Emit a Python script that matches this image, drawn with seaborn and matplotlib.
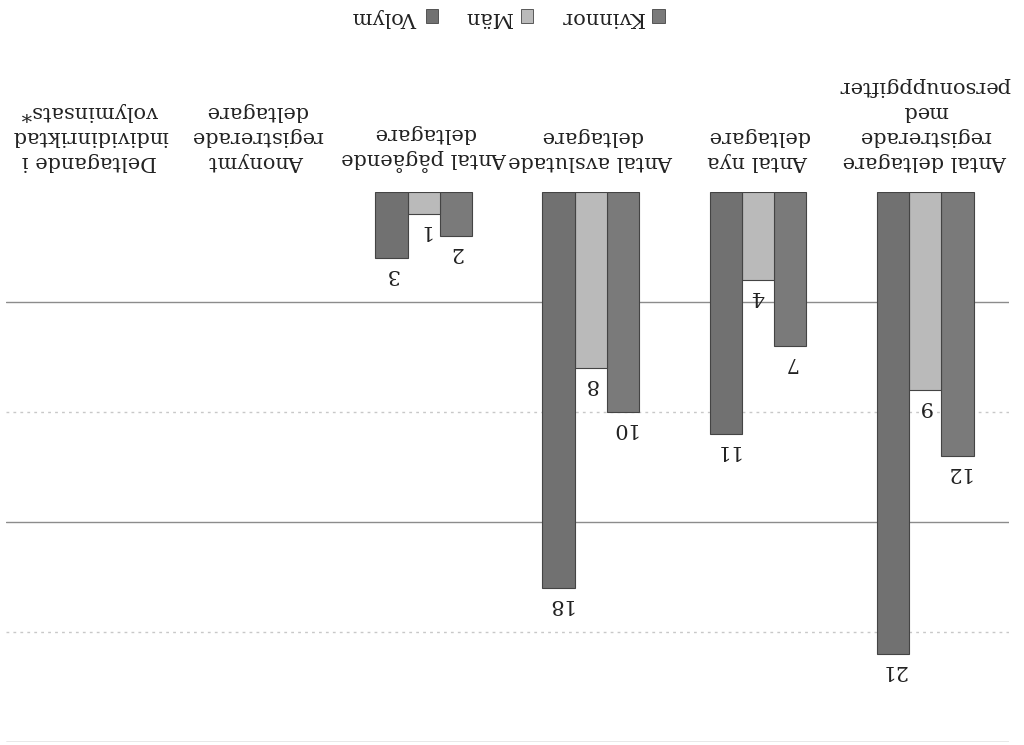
import matplotlib
matplotlib.use("Agg")
import matplotlib.pyplot as plt
import seaborn as sns
import pandas as pd
from matplotlib.patches import Patch

# Data (chart is a scan printed upside down, so everything is drawn rotated 180°)
categories = [
    "Antal deltagare\nregistrerade\nmed\npersonuppgifter",
    "Antal nya\ndeltagare",
    "Antal avslutade\ndeltagare",
    "Antal pågående\ndeltagare",
    "Anonymt\nregistrerade\ndeltagare",
    "Deltagande i\nindividinriktad\nvolyminsats*",
]
series = ["Kvinnor", "Män", "Volym"]
kvinnor = [12, 7, 10, 2, None, None]
man = [9, 4, 8, 1, None, None]
volym = [21, 11, 18, 3, None, None]
grid_values = [5, 10, 15, 20, 25]

colors = {"Kvinnor": "#7a7a7a", "Män": "#bababa", "Volym": "#717171"}

rows = []
for s, vals in zip(series, [kvinnor, man, volym]):
    for c, v in zip(categories, vals):
        rows.append({"kategori": c, "serie": s, "antal": v})
df = pd.DataFrame(rows)

sns.set_theme(style="white")
plt.rcParams["font.family"] = ["DejaVu Serif"]

fig = plt.figure(figsize=(10.24, 7.45), dpi=100)
ax = fig.add_axes([0.006, 0.004, 0.979, 0.738])

sns.barplot(
    data=df, x="kategori", y="antal", hue="serie",
    order=categories, hue_order=series, palette=colors,
    width=0.58, edgecolor="#444444", linewidth=0.8,
    ax=ax, legend=False,
)

ax.set_ylim(25, 0)       # upside down
ax.set_xlim(5.5, -0.5)   # mirrored
ax.set_yticks(grid_values)
ax.yaxis.grid(True, color="#8c8c8c", linewidth=1)
# the scan shows the 10 and 20 lines much fainter
for v, gl in zip(grid_values, ax.yaxis.get_gridlines()):
    if v in (10, 20):
        gl.set_color("#c8c8c8")
        gl.set_linestyle((0, (2, 3)))
ax.set_axisbelow(True)
ax.tick_params(axis="y", left=False, labelleft=False)
ax.xaxis.tick_top()
ax.tick_params(axis="x", top=False, bottom=False, pad=9)
ax.set_xticks(range(len(categories)))
ax.set_xticklabels(categories, rotation=180, fontsize=15, color="#222222",
                   va="bottom", ha="center", multialignment="center",
                   linespacing=1.4)
ax.set_xlabel("")
ax.set_ylabel("")
sns.despine(ax=ax, left=True, bottom=True, top=True, right=True)

for cont in ax.containers:
    labels = ["" if pd.isna(v) or v == 0 else f"{v:g}" for v in cont.datavalues]
    ax.bar_label(cont, labels=labels, padding=5, fontsize=15,
                 rotation=180, color="#222222")

# legend (rotated 180°: order reversed, marker after text)
handles = [Patch(facecolor=colors[s], edgecolor="#444444", linewidth=0.6)
           for s in reversed(series)]
leg = fig.legend(handles, list(reversed(series)), loc="center",
                 bbox_to_anchor=(0.497, 0.976), ncol=3, frameon=False,
                 markerfirst=False, fontsize=15, handlelength=0.6,
                 handleheight=0.6, handletextpad=0.4, columnspacing=1.3)
for t in leg.get_texts():
    t.set_rotation(180)
    t.set_color("#222222")

fig.savefig("out.png", dpi=100)
